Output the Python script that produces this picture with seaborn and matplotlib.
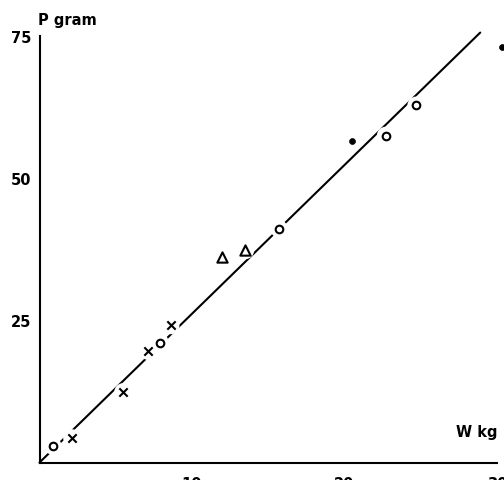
import matplotlib
matplotlib.use("Agg")
import matplotlib.pyplot as plt
import seaborn as sns
import pandas as pd

# Weight W (kg) against P (gram), grouped by symbol
circle_w = [0.87, 7.9, 15.7, 22.7, 24.7]
circle_p = [2.9, 21.1, 41.1, 57.5, 62.8]
cross_w = [2.13, 5.48, 7.1, 8.6]
cross_p = [4.3, 12.4, 19.6, 24.1]
tri_w = [11.97, 13.5]
tri_p = [36.2, 37.3]
dot_w = [20.5, 30.3]
dot_p = [56.6, 73.1]

# Fitted line
line_w = [0.0, 28.9]
line_p = [0.0, 75.6]

x_ticks = [10, 20, 30]
y_ticks = [25, 50, 75]

sns.set_theme(style="white")
plt.rcParams["font.family"] = ["DejaVu Sans"]

fig = plt.figure(figsize=(5.04, 4.81), dpi=100)
ax = fig.add_axes([39.5 / 504, 17.5 / 481, (497 - 39.5) / 504, (463.5 - 37) / 481])

sns.lineplot(x=line_w, y=line_p, ax=ax, color="black", linewidth=1.5,
             zorder=2, clip_on=False)

all_w = circle_w + cross_w + tri_w
all_p = circle_p + cross_p + tri_p
# white halos break the line around each symbol
sns.scatterplot(x=all_w, y=all_p, ax=ax, marker="o", s=160, color="white",
                edgecolor="none", linewidth=0, zorder=3, clip_on=False)

sns.scatterplot(x=circle_w, y=circle_p, ax=ax, marker="o", s=30,
                facecolor="white", edgecolor="black", linewidth=1.5,
                zorder=4, clip_on=False)
sns.scatterplot(x=cross_w, y=cross_p, ax=ax, marker="x", s=36,
                color="black", linewidth=1.5, zorder=4, clip_on=False)
sns.scatterplot(x=tri_w, y=tri_p, ax=ax, marker="^", s=55,
                facecolor="white", edgecolor="black", linewidth=1.5,
                zorder=4, clip_on=False)
sns.scatterplot(x=dot_w, y=dot_p, ax=ax, marker="o", s=18,
                color="black", edgecolor="black", linewidth=0.5,
                zorder=4, clip_on=False)

ax.set_xlim(0, 30)
ax.set_ylim(0, 75)
ax.set_xticks(x_ticks)
ax.set_yticks(y_ticks)
ax.set_xticklabels([str(t) for t in x_ticks], fontweight="bold")
ax.set_yticklabels([str(t) for t in y_ticks], fontweight="bold")
ax.set_xlabel("")
ax.set_ylabel("")

for side in ["top", "right"]:
    ax.spines[side].set_visible(False)
for side in ["left", "bottom"]:
    ax.spines[side].set_color("black")
    ax.spines[side].set_linewidth(1.5)

ax.tick_params(axis="x", direction="in", length=9, width=1.5, color="black",
               pad=9.5, labelsize=10.5, labelcolor="black")
ax.tick_params(axis="y", direction="in", length=10.5, width=1.5, color="black",
               pad=6, labelsize=10.5, labelcolor="black")
ax.grid(False)

fig.text(38 / 504, 1 - 20 / 481, "P gram", ha="left", va="center",
         fontsize=10.5, fontweight="bold", color="black")
fig.text(497 / 504, 1 - 433 / 481, "W kg", ha="right", va="center",
         fontsize=10.5, fontweight="bold", color="black")

fig.savefig("out.png", dpi=100, facecolor="white")
